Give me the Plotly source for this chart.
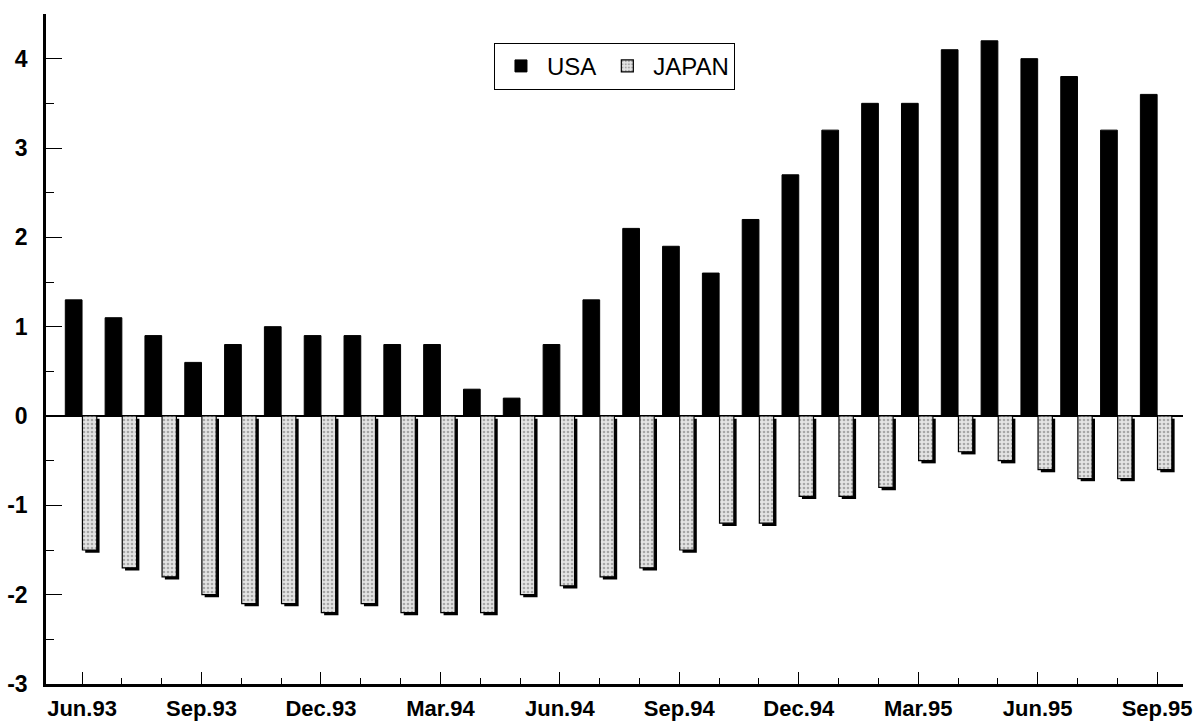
import plotly.graph_objects as go

months = ['Jun.93', 'Jul.93', 'Aug.93', 'Sep.93', 'Oct.93', 'Nov.93', 'Dec.93',
          'Jan.94', 'Feb.94', 'Mar.94', 'Apr.94', 'May.94', 'Jun.94', 'Jul.94',
          'Aug.94', 'Sep.94', 'Oct.94', 'Nov.94', 'Dec.94', 'Jan.95', 'Feb.95',
          'Mar.95', 'Apr.95', 'May.95', 'Jun.95', 'Jul.95', 'Aug.95', 'Sep.95']

usa = [1.3, 1.1, 0.9, 0.6, 0.8, 1.0, 0.9, 0.9, 0.8, 0.8, 0.3, 0.2, 0.8, 1.3,
       2.1, 1.9, 1.6, 2.2, 2.7, 3.2, 3.5, 3.5, 4.1, 4.2, 4.0, 3.8, 3.2, 3.6]

japan = [-1.5, -1.7, -1.8, -2.0, -2.1, -2.1, -2.2, -2.1, -2.2, -2.2, -2.2, -2.0, -1.9, -1.8,
         -1.7, -1.5, -1.2, -1.2, -0.9, -0.9, -0.8, -0.5, -0.4, -0.5, -0.6, -0.7, -0.7, -0.6]

y_ticks = [-3, -2, -1, 0, 1, 2, 3, 4]

x = list(range(len(months)))
font_family = 'Liberation Sans, Arial, Helvetica, sans-serif'

fig = go.Figure()

# USA bars, left of each month
fig.add_trace(go.Bar(
    x=x, y=usa, name='USA',
    offset=-0.42, width=0.42,
    marker=dict(color='black', line=dict(color='black', width=1)),
))

# shadow under the japan bars for the 3d look
fig.add_trace(go.Bar(
    x=x, y=japan, base=-0.03, showlegend=False, hoverinfo='skip',
    offset=0.08, width=0.36,
    marker=dict(color='black', line=dict(width=0)),
))

fig.add_trace(go.Bar(
    x=x, y=japan, name='JAPAN',
    offset=0.01, width=0.36,
    marker=dict(color='#e4e4e4', line=dict(color='black', width=1.2),
                pattern=dict(shape='.', fgcolor='#6a6a6a', bgcolor='#e4e4e4', size=4, solidity=0.35)),
))

fig.update_layout(
    width=1195, height=724,
    barmode='overlay',
    plot_bgcolor='white',
    paper_bgcolor='white',
    margin=dict(l=46, r=12, t=14, b=40),
    font=dict(family=font_family, color='black'),
    legend=dict(
        orientation='h',
        x=0.394, y=0.957, xanchor='left', yanchor='top',
        bgcolor='white', bordercolor='black', borderwidth=1,
        font=dict(size=24, family=font_family),
        itemwidth=42,
    ),
    xaxis=dict(
        range=[-0.905, 27.65],
        tickvals=x[::3], ticktext=months[::3],
        ticks='inside', ticklen=12, tickcolor='black', tickwidth=1,
        minor=dict(ticks='inside', ticklen=6, dtick=1, tick0=0, tickcolor='black'),
        tickfont=dict(size=22, family=font_family, weight='bold'),
        ticklabelstandoff=3,
        showline=True, linecolor='black', linewidth=2.5,
        showgrid=False, zeroline=False, fixedrange=True, automargin=False,
    ),
    yaxis=dict(
        range=[-3, 4.5],
        tickvals=y_ticks, ticktext=[str(v) for v in y_ticks],
        ticks='inside', ticklen=16, tickcolor='black', tickwidth=1,
        minor=dict(ticks='inside', ticklen=8, dtick=0.5, tickcolor='black'),
        tickfont=dict(size=23, family=font_family, weight='bold'),
        ticklabelstandoff=11,
        showline=True, linecolor='black', linewidth=2.5,
        showgrid=False, zeroline=True, zerolinecolor='black', zerolinewidth=2,
        fixedrange=True, automargin=False,
    ),
)

# page body has a default 8px margin, drop it so the figure fills the window
fig.write_html('out.html', config={'displayModeBar': False},
               post_script="document.body.style.margin = '0px';")
